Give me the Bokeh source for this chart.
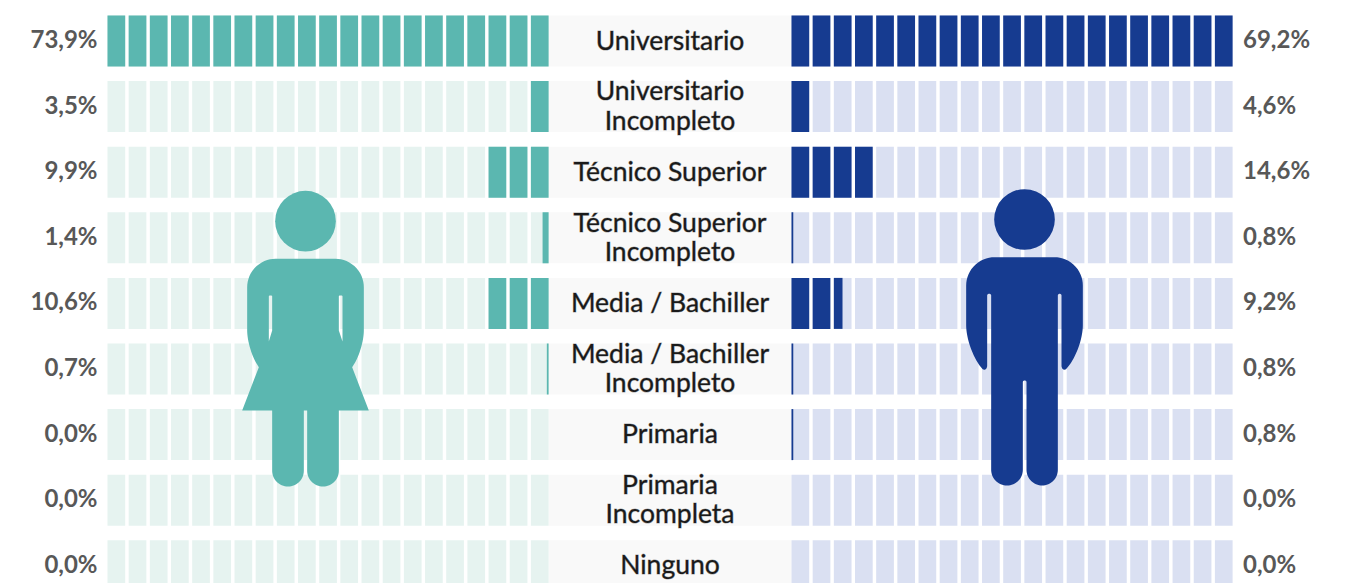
import numpy as np
from bokeh.plotting import figure
from bokeh.embed import file_html
from bokeh.resources import INLINE
from bokeh.core.properties import value

categories = ["Universitario", "Universitario\nIncompleto", "Técnico Superior", "Técnico Superior\nIncompleto",
              "Media / Bachiller", "Media / Bachiller\nIncompleto", "Primaria", "Primaria\nIncompleta", "Ninguno"]
female_labels = ["73,9%", "3,5%", "9,9%", "1,4%", "10,6%", "0,7%", "0,0%", "0,0%", "0,0%"]
male_labels = ["69,2%", "4,6%", "14,6%", "0,8%", "9,2%", "0,8%", "0,8%", "0,0%", "0,0%"]
female_cells = [21, 1, 3, 0.34, 3, 0.1, 0, 0, 0]
male_cells = [21, 1, 4, 0.1, 2.49, 0.1, 0.1, 0, 0]
N_CELLS = 21

TEAL, TEAL_L = "#5bb7b0", "#e6f3f0"
NAVY, NAVY_L = "#163b90", "#dae0f2"
BAND = "#f9f9f9"
W, H = 1345, 583

p = figure(width=W, height=H, x_range=(0, W), y_range=(H, 0), output_backend="svg",
           toolbar_location=None, min_border=0, outline_line_color=None, background_fill_color="white")
p.axis.visible = False
p.grid.visible = False

PITCH, CW = 21.17, 17.7
RTOP, RH, RPITCH = 15.0, 51.0, 65.6
LX, RX = 107.0, 791.0
tops = [RTOP + i * RPITCH for i in range(len(categories))]

# central bands
p.quad(left=LX + N_CELLS * PITCH - (PITCH - CW), right=RX, top=tops, bottom=[t + RH for t in tops],
       fill_color=BAND, line_color=None)


def cells(x0, counts, from_right, color_on, color_off):
    bl, br, bt, bb, fl, fr, ft, fb = [], [], [], [], [], [], [], []
    for row, n in enumerate(counts):
        for c in range(N_CELLS):
            l = x0 + c * PITCH
            r = l + CW
            bl.append(l); br.append(r); bt.append(tops[row]); bb.append(tops[row] + RH)
            k = N_CELLS - 1 - c if from_right else c
            frac = min(1.0, max(0.0, n - k))
            if frac > 0:
                if from_right:
                    fl.append(r - frac * CW); fr.append(r)
                else:
                    fl.append(l); fr.append(l + frac * CW)
                ft.append(tops[row]); fb.append(tops[row] + RH)
    p.quad(left=bl, right=br, top=bt, bottom=bb, fill_color=color_off, line_color=None)
    p.quad(left=fl, right=fr, top=ft, bottom=fb, fill_color=color_on, line_color=None)


cells(LX, female_cells, True, TEAL, TEAL_L)
cells(RX, male_cells, False, NAVY, NAVY_L)


def rounded(pts, ox, oy, scale=1 / 3, w=0.7):
    xs, ys = [], []
    n = len(pts)
    for i, (x, y, r) in enumerate(pts):
        if r <= 0:
            xs.append(x); ys.append(y)
            continue
        a = np.array(pts[i - 1][:2], float)
        b = np.array([x, y], float)
        c = np.array(pts[(i + 1) % n][:2], float)
        u = (a - b) / np.linalg.norm(a - b)
        v = (c - b) / np.linalg.norm(c - b)
        for t in np.linspace(0, 1, 16):
            d0, d1, d2 = (1 - t) ** 2, 2 * t * (1 - t) * w, t ** 2
            q = (d0 * (b + u * r) + d1 * b + d2 * (b + v * r)) / (d0 + d1 + d2)
            xs.append(q[0]); ys.append(q[1])
    return [ox + s * scale for s in xs], [oy + s * scale for s in ys]


# woman
wx, wy = 220, 180
outer = [(80, 235, 85), (430, 235, 85), (430, 505, 55), (395, 560, 0), (445, 690, 0), (355, 690, 0), (355, 918, 47),
         (260, 918, 47), (260, 690, 0), (250, 690, 0), (250, 918, 47), (155, 918, 47), (155, 690, 0), (65, 690, 0),
         (115, 560, 0), (80, 505, 55)]
hole_l = [(145, 345, 3), (155, 345, 3), (155, 450, 0), (145, 483, 0)]
hole_r = [(355, 345, 3), (366, 345, 3), (366, 483, 0), (355, 450, 0)]
o = rounded(outer, wx, wy); h1 = rounded(hole_l, wx, wy); h2 = rounded(hole_r, wx, wy)
p.multi_polygons(xs=[[[o[0], h1[0], h2[0]]]], ys=[[[o[1], h1[1], h2[1]]]], fill_color=TEAL, line_color=None)
p.circle(x=[wx + 255 / 3], y=[wy + 122 / 3], radius=91 / 3, fill_color=TEAL, line_color=None)

# man
mx, my = 940, 180
outer = [(77, 230, 85), (427, 230, 85), (427, 505, 70), (372, 572, 10), (363, 562, 6), (363, 340, 5), (352, 340, 5),
         (352, 915, 47), (258, 915, 47), (258, 600, 5), (247, 600, 5), (247, 915, 47), (152, 915, 47), (152, 340, 5),
         (140, 340, 5), (140, 562, 6), (131, 572, 10), (77, 505, 70)]
o = rounded(outer, mx, my)
p.multi_polygons(xs=[[[o[0]]]], ys=[[[o[1]]]], fill_color=NAVY, line_color=None)
p.circle(x=[mx + 252 / 3], y=[my + 117 / 3], radius=91 / 3, fill_color=NAVY, line_color=None)

mids = [t + RH / 2 for t in tops]
FONT = value("Lato")
p.text(x=[97] * 9, y=[m - 2.5 for m in mids], text=female_labels, text_align="right", text_baseline="middle",
       text_font=FONT, text_font_size="24px", text_color="#585858", text_font_style="bold")
p.text(x=[1242.5] * 9, y=[m - 2.5 for m in mids], text=male_labels, text_align="left", text_baseline="middle",
       text_font=FONT, text_font_size="24px", text_color="#585858", text_font_style="bold")
p.text(x=[669.5] * 9, y=[m - 1.5 for m in mids], text=categories, text_align="center", text_baseline="middle",
       text_font=FONT, text_font_size="26.5px", text_color="#1a1a1a", text_line_height=0.92,
       text_outline_color="#1a1a1a66")

open("out.html", "w").write(file_html(p, INLINE))
